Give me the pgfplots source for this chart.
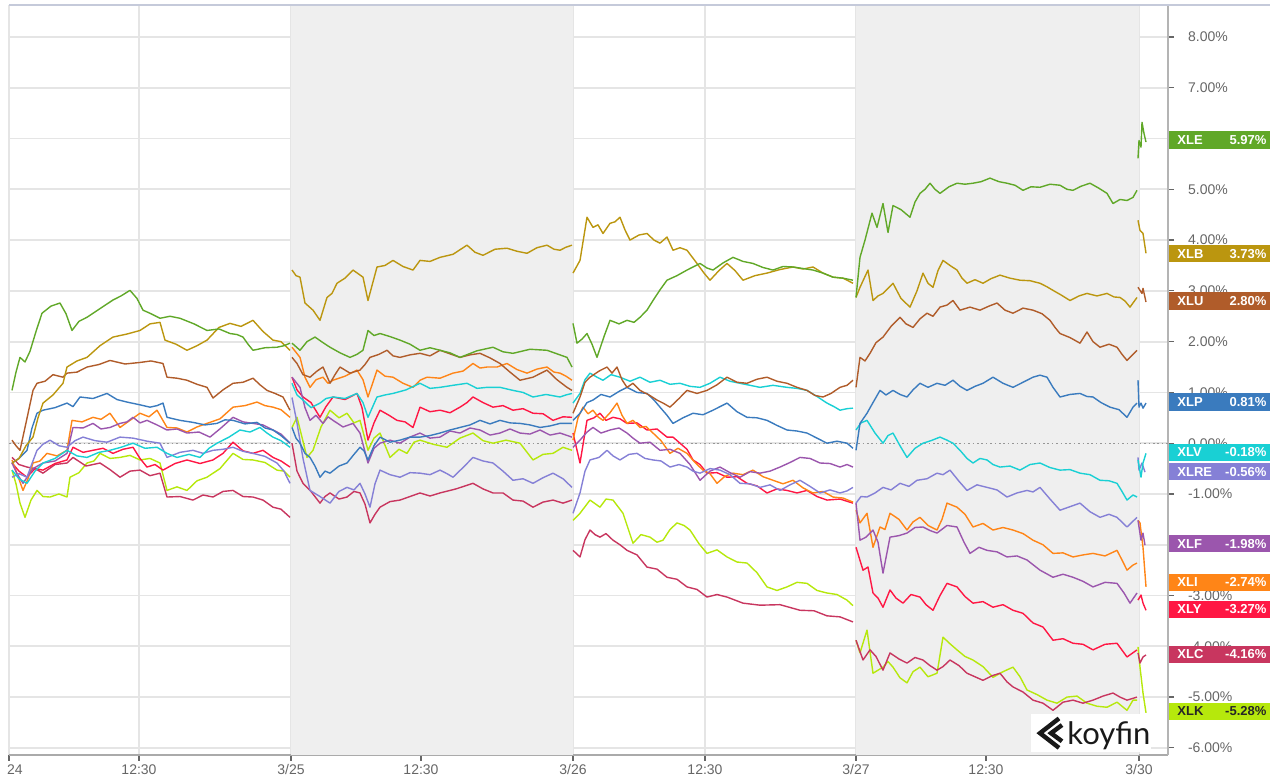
\documentclass[border=0pt]{standalone}
\usepackage{fontspec}
\setmainfont{Liberation Sans}
\newfontfamily\logofont{Lato}
\usepackage{pgfplots}
\pgfplotsset{compat=1.18}

\definecolor{cXLE}{RGB}{96,168,40}
\definecolor{cXLB}{RGB}{187,150,15}
\definecolor{cXLU}{RGB}{176,92,42}
\definecolor{cXLP}{RGB}{58,123,190}
\definecolor{cXLV}{RGB}{25,208,212}
\definecolor{cXLRE}{RGB}{133,128,214}
\definecolor{cXLF}{RGB}{155,86,173}
\definecolor{cXLI}{RGB}{255,133,23}
\definecolor{cXLY}{RGB}{255,23,68}
\definecolor{cXLC}{RGB}{200,54,95}
\definecolor{cXLK}{RGB}{182,232,12}
\definecolor{shadec}{RGB}{239,239,239}
\definecolor{gridc}{RGB}{229,229,229}
\definecolor{tickc}{RGB}{102,102,102}
\definecolor{topc}{RGB}{197,202,218}
\definecolor{xaxc}{RGB}{170,170,170}
\definecolor{yaxc}{RGB}{180,180,180}
\definecolor{zeroc}{RGB}{150,150,150}

\newcommand{\lbl}[4]{%
  \node[fill=#3, anchor=west, minimum width=50.5pt, minimum height=8.6pt, inner sep=0pt] (b) at ([xshift=0.5pt]axis cs:1159,#2) {};
  \node[anchor=west, text=#4, font=\bfseries\fontsize{6.5}{7}\selectfont, inner sep=0pt] at ([xshift=4pt]b.west) {#1};
  \node[anchor=east, text=#4, font=\bfseries\fontsize{6.5}{7}\selectfont, inner sep=0pt] at ([xshift=-2pt]b.east) {#2\%};
}

\begin{document}
\begin{tikzpicture}
\begin{axis}[
  set layers,
  scale only axis,
  width=579.5pt, height=375pt,
  xmin=0, xmax=1159, ymin=-6.14, ymax=8.63,
  clip=false,
  unbounded coords=jump,
  axis x line*=bottom, axis y line*=right,
  axis line style={-},
  x axis line style={draw=xaxc, line width=1pt},
  y axis line style={draw=yaxc, line width=0.9pt},
  xtick={0,130,282,412,564,696,847,977,1130},
  xticklabels={\hphantom{3/}24,12:30,3/25,12:30,3/26,12:30,3/27,12:30,3/30},
  ytick={-6,-5,-4,-3,-1,0,1,2,3,4,5,7,8},
  extra y ticks={-2,6},
  extra y tick labels={},
  extra y tick style={ymajorgrids=true},
  /pgf/number format/assume math mode=true,
  yticklabel={\pgfmathprintnumber[fixed,fixed zerofill,precision=2]{\tick}\%},
  tick label style={font=\fontsize{7}{8}\selectfont, text=tickc},
  yticklabel style={xshift=3.5pt},
  xticklabel style={yshift=1.8pt},
  tick align=outside,
  major tick length=3pt,
  tick style={draw=tickc, line width=0.6pt},
  xmajorgrids, ymajorgrids,
  grid style={draw=gridc, line width=0.9pt},
  every axis plot/.append style={line width=0.7pt, mark=none, line join=round},
]
\fill[shadec, on layer=axis background] (axis cs:282,-6.14) rectangle (axis cs:564,8.63);
\fill[shadec, on layer=axis background] (axis cs:847,-6.14) rectangle (axis cs:1130,8.63);
\draw[draw=zeroc, line width=0.7pt, dash pattern=on 0.8pt off 1.4pt] (axis cs:0,0) -- (axis cs:1159,0);

% XLK
\addplot[cXLK] coordinates {
(3,-0.53) (7,-0.80) (11,-1.18) (16,-1.46) (22,-1.12) (28,-0.93) (34,-1.05) (41,-1.06) (50,-1.00) (58,-1.06) (61,-0.67) (70,-0.58) (78,-0.39) (85,-0.35) (91,-0.20) (101,-0.30) (111,-0.28) (121,-0.24) (131,-0.33) (141,-0.30) (151,-0.39) (158,-0.93) (168,-0.86) (178,-0.93) (188,-0.74) (198,-0.67) (211,-0.50) (224,-0.20) (234,-0.32) (244,-0.33) (256,-0.38) (268,-0.53) (275,-0.55) (281,-0.67)
(282,nan)
(283,0.31) (288,0.51) (298,-0.28) (304,-0.14) (312,0.32) (321,0.65) (330,0.50) (338,0.59) (345,0.40) (351,0.45) (359,-0.14) (365,0.10) (371,0.20) (381,-0.28) (390,-0.12) (398,-0.20) (405,0.02) (411,0.06) (424,-0.02) (438,-0.08) (451,0.10) (464,0.20) (474,0.05) (484,0) (497,0.06) (511,0) (524,-0.33) (534,-0.22) (544,-0.20) (554,-0.08) (563,-0.14)
(564,nan)
(564,-1.52) (571,-1.38) (581,-1.12) (591,-1.26) (597,-1.10) (604,-1.12) (614,-1.38) (624,-1.97) (632,-1.80) (641,-1.85) (648,-1.95) (654,-1.91) (661,-1.70) (668,-1.57) (675,-1.62) (681,-1.71) (690,-1.98) (698,-2.17) (708,-2.10) (718,-2.24) (728,-2.34) (738,-2.36) (748,-2.55) (758,-2.83) (768,-2.90) (778,-2.83) (788,-2.74) (798,-2.76) (808,-2.90) (818,-2.95) (828,-2.98) (838,-3.09) (844,-3.20)
(846,nan)
(847,-3.88) (851,-4.13) (858,-3.68) (864,-4.53) (874,-4.41) (879,-4.30) (884,-4.41) (891,-4.62) (898,-4.72) (904,-4.50) (911,-4.41) (919,-4.60) (928,-4.53) (934,-3.82) (941,-3.95) (948,-4.07) (956,-4.20) (964,-4.27) (974,-4.40) (984,-4.61) (994,-4.50) (1004,-4.41) (1011,-4.60) (1018,-4.86) (1028,-4.95) (1038,-5.06) (1048,-5.12) (1058,-5.0) (1068,-4.98) (1078,-5.12) (1088,-5.18) (1098,-5.20) (1108,-5.10) (1118,-5.26) (1124,-5.06) (1128,-5.06)
(1128,nan)
(1129,-4.01) (1131,-4.41) (1134,-4.92) (1137,-5.31)
};
% XLC
\addplot[cXLC] coordinates {
(3,-0.28) (10,-0.42) (18,-0.47) (26,-0.50) (34,-0.59) (46,-0.42) (58,-0.39) (64,-0.28) (77,-0.45) (91,-0.39) (101,-0.52) (111,-0.67) (121,-0.55) (131,-0.53) (141,-0.64) (151,-0.59) (158,-1.06) (171,-1.05) (184,-1.12) (194,-1.02) (204,-1.06) (214,-0.95) (224,-0.93) (234,-1.05) (244,-1.06) (254,-1.12) (264,-1.26) (272,-1.30) (281,-1.46)
(282,nan)
(283,0) (288,-0.55) (294,-0.79) (302,-0.95) (311,-1.18) (316,-1.05) (321,-0.98) (330,-1.10) (338,-1.06) (345,-0.95) (351,-0.98) (356,-1.20) (361,-1.57) (366,-1.40) (371,-1.26) (381,-1.15) (391,-1.12) (401,-1.05) (411,-0.98) (421,-1.04) (431,-0.98) (447,-0.90) (464,-0.79) (474,-0.90) (484,-0.98) (494,-0.98) (504,-1.12) (514,-1.14) (524,-1.26) (534,-1.16) (544,-1.12) (554,-1.18) (563,-1.12)
(564,nan)
(564,-2.11) (571,-2.24) (576,-1.90) (581,-1.71) (586,-1.80) (591,-1.85) (597,-1.78) (604,-1.91) (611,-2.00) (618,-2.11) (628,-2.20) (638,-2.44) (648,-2.48) (658,-2.64) (668,-2.68) (678,-2.83) (688,-2.88) (698,-3.03) (708,-2.98) (718,-3.03) (734,-3.15) (751,-3.19) (771,-3.18) (791,-3.29) (805,-3.30) (818,-3.40) (831,-3.42) (844,-3.52)
(846,nan)
(847,-3.88) (854,-4.27) (861,-4.07) (867,-4.20) (874,-4.47) (881,-4.13) (890,-4.25) (898,-4.33) (906,-4.22) (914,-4.27) (921,-4.38) (928,-4.47) (934,-4.40) (941,-4.27) (950,-4.38) (958,-4.53) (966,-4.60) (974,-4.67) (983,-4.58) (991,-4.53) (998,-4.70) (1004,-4.80) (1014,-4.90) (1024,-5.06) (1034,-5.12) (1044,-5.26) (1054,-5.10) (1064,-5.06) (1074,-5.12) (1084,-5.06) (1094,-4.98) (1104,-4.92) (1111,-5.00) (1118,-5.06) (1128,-5.0)
(1128,nan)
(1129,-4.13) (1131,-4.33) (1134,-4.21) (1137,-4.17)
};
% XLY
\addplot[cXLY] coordinates {
(3,-0.39) (10,-0.55) (18,-0.67) (26,-0.50) (34,-0.53) (46,-0.40) (58,-0.33) (64,-0.08) (74,-0.18) (84,-0.14) (94,-0.10) (104,-0.20) (114,-0.12) (124,-0.08) (131,-0.30) (138,-0.47) (146,-0.42) (154,-0.53) (166,-0.40) (178,-0.33) (191,-0.40) (204,-0.33) (214,-0.20) (224,0.02) (234,-0.15) (244,-0.20) (254,-0.14) (264,-0.28) (272,-0.35) (281,-0.47)
(282,nan)
(283,1.30) (288,1.05) (294,0.91) (302,0.80) (311,0.51) (317,0.72) (324,0.91) (336,0.86) (348,0.98) (353,0.70) (359,0.06) (365,0.40) (371,0.65) (380,0.55) (388,0.45) (396,0.42) (404,0.31) (411,0.71) (421,0.62) (431,0.65) (441,0.60) (451,0.71) (458,0.80) (464,0.91) (474,0.80) (484,0.71) (494,0.74) (504,0.65) (514,0.68) (524,0.59) (534,0.58) (544,0.45) (554,0.52) (563,0.51)
(564,nan)
(564,0.20) (571,-0.39) (578,0.45) (585,0.50) (591,0.59) (597,0.45) (604,0.51) (611,0.48) (618,0.39) (628,0.40) (638,0.26) (648,0.28) (658,0.12) (664,0.12) (671,0) (678,-0.12) (684,-0.33) (691,-0.42) (698,-0.59) (708,-0.58) (718,-0.67) (728,-0.66) (738,-0.79) (748,-0.84) (758,-0.98) (768,-0.90) (778,-0.93) (788,-0.98) (798,-0.93) (808,-1.05) (818,-1.12) (831,-1.10) (844,-1.18)
(846,nan)
(847,-2.05) (854,-2.50) (859,-2.44) (864,-2.95) (869,-3.05) (874,-3.23) (881,-2.89) (887,-3.05) (894,-3.15) (902,-2.98) (911,-3.03) (917,-3.18) (924,-3.29) (931,-3.00) (938,-2.76) (948,-2.83) (956,-3.02) (964,-3.15) (974,-3.12) (984,-3.23) (994,-3.18) (1004,-3.29) (1014,-3.35) (1024,-3.54) (1034,-3.62) (1044,-3.88) (1054,-3.85) (1064,-3.94) (1074,-3.96) (1084,-4.07) (1096,-3.96) (1108,-3.94) (1118,-4.21) (1128,-4.07)
(1128,nan)
(1129,-3.09) (1132,-2.99) (1134,-3.15) (1137,-3.29)
};
% XLI
\addplot[cXLI] coordinates {
(3,-0.33) (8,-0.60) (14,-0.93) (19,-0.70) (24,-0.39) (31,-0.35) (38,-0.20) (48,-0.25) (58,-0.14) (63,0.45) (73,0.42) (84,0.51) (92,0.47) (101,0.59) (111,0.31) (121,0.45) (131,0.59) (140,0.52) (148,0.65) (158,0.31) (168,0.30) (178,0.22) (188,0.32) (198,0.39) (211,0.48) (224,0.71) (236,0.74) (248,0.81) (256,0.74) (264,0.71) (272,0.66) (281,0.51)
(282,nan)
(283,1.89) (291,1.69) (296,1.30) (301,1.10) (307,1.25) (314,1.30) (319,1.18) (324,1.24) (336,1.32) (348,1.44) (354,1.25) (359,0.91) (368,1.44) (376,1.32) (384,1.30) (394,1.18) (404,1.10) (411,1.24) (418,1.30) (431,1.28) (444,1.38) (454,1.42) (464,1.57) (471,1.48) (478,1.50) (488,1.50) (498,1.57) (508,1.45) (518,1.38) (528,1.46) (538,1.50) (545,1.40) (551,1.38) (557,1.32) (563,1.24)
(564,nan)
(564,0.06) (569,0.50) (574,0.71) (579,0.58) (584,0.65) (589,0.52) (594,0.45) (601,0.60) (608,0.79) (613,0.55) (618,0.39) (624,0.45) (631,0.31) (637,0.33) (644,0.20) (652,0.05) (661,-0.20) (669,-0.10) (678,-0.20) (686,-0.38) (694,-0.53) (701,-0.60) (708,-0.79) (716,-0.65) (724,-0.59) (734,-0.62) (744,-0.53) (754,-0.66) (764,-0.73) (774,-0.80) (784,-0.73) (794,-0.88) (804,-0.98) (814,-0.95) (824,-1.06) (834,-1.08) (844,-1.16)
(846,nan)
(847,-1.32) (851,-1.57) (858,-1.38) (864,-2.05) (871,-1.65) (876,-1.70) (881,-1.38) (890,-1.50) (898,-1.71) (904,-1.55) (911,-1.46) (919,-1.62) (928,-1.71) (933,-1.50) (938,-1.18) (948,-1.26) (956,-1.40) (964,-1.65) (974,-1.58) (984,-1.71) (994,-1.66) (1004,-1.71) (1014,-1.78) (1024,-1.91) (1034,-2.00) (1044,-2.17) (1054,-2.16) (1064,-2.24) (1074,-2.20) (1084,-2.17) (1096,-2.22) (1108,-2.11) (1113,-2.30) (1118,-2.50) (1124,-2.40) (1128,-2.36)
(1128,nan)
(1129,-1.52) (1131,-1.57) (1134,-2.05) (1137,-2.83)
};
% XLF
\addplot[cXLF] coordinates {
(3,-0.39) (8,-0.60) (14,-0.79) (24,-0.50) (34,-0.39) (46,-0.35) (58,-0.20) (64,0.31) (74,0.30) (84,0.39) (92,0.28) (101,0.31) (111,0.39) (118,0.42) (124,0.51) (131,0.40) (138,0.45) (148,0.36) (158,0.26) (168,0.28) (178,0.20) (190,0.22) (201,0.12) (212,0.30) (224,0.51) (234,0.42) (244,0.39) (254,0.36) (264,0.26) (272,0.18) (281,0)
(282,nan)
(283,1.30) (291,1.10) (296,0.70) (301,0.45) (307,0.55) (314,0.39) (319,0.52) (324,0.45) (334,0.32) (344,0.39) (351,0.20) (359,-0.39) (365,-0.10) (371,0) (381,0.06) (391,0) (401,0.12) (411,0.20) (421,0.10) (431,0.12) (441,0.24) (451,0.20) (461,0.30) (471,0.26) (481,0.16) (491,0.20) (501,0.28) (511,0.20) (521,0.18) (531,0.26) (541,0.16) (551,0.20) (563,0.12)
(564,nan)
(564,-0.08) (571,0.06) (578,0.22) (584,0.31) (592,0.20) (601,0.26) (610,0.30) (618,0.20) (624,0.10) (631,0) (641,0.02) (651,-0.14) (661,-0.12) (671,-0.20) (681,-0.42) (691,-0.73) (701,-0.55) (711,-0.47) (721,-0.58) (731,-0.67) (741,-0.56) (751,-0.59) (761,-0.55) (771,-0.47) (781,-0.38) (791,-0.28) (801,-0.30) (811,-0.39) (821,-0.40) (831,-0.47) (838,-0.42) (844,-0.47)
(846,nan)
(847,-1.18) (851,-1.91) (857,-1.85) (864,-1.71) (869,-1.95) (874,-2.56) (881,-1.85) (890,-1.82) (898,-1.77) (906,-1.66) (914,-1.65) (921,-1.72) (928,-1.77) (938,-1.62) (948,-1.65) (955,-1.95) (961,-2.17) (970,-2.05) (978,-2.11) (988,-2.14) (998,-2.24) (1008,-2.22) (1018,-2.30) (1031,-2.50) (1044,-2.64) (1054,-2.58) (1064,-2.64) (1074,-2.72) (1084,-2.83) (1096,-2.74) (1108,-2.76) (1115,-2.95) (1121,-3.15) (1128,-2.95)
(1128,nan)
(1129,-1.52) (1132,-1.91) (1134,-1.77) (1136,-2.01)
};
% XLRE
\addplot[cXLRE] coordinates {
(3,-0.67) (10,-0.60) (18,-0.67) (23,-0.40) (28,-0.14) (34,-0.02) (41,0.06) (50,-0.05) (58,-0.08) (66,0.05) (74,0.12) (86,0.05) (98,0.02) (111,0.12) (124,0.10) (138,0.04) (151,0) (158,-0.28) (171,-0.18) (184,-0.14) (194,-0.20) (204,-0.14) (214,-0.12) (224,-0.08) (234,-0.16) (244,-0.20) (256,-0.26) (268,-0.39) (275,-0.55) (281,-0.79)
(282,nan)
(283,0.9) (288,0.40) (294,-0.30) (301,-0.93) (311,-1.05) (321,-1.18) (330,-0.95) (338,-0.87) (345,-0.92) (351,-0.79) (356,-1.00) (361,-1.26) (366,-0.80) (371,-0.53) (381,-0.62) (391,-0.67) (401,-0.58) (411,-0.59) (421,-0.62) (431,-0.53) (438,-0.60) (444,-0.67) (454,-0.48) (464,-0.28) (474,-0.35) (484,-0.39) (494,-0.55) (504,-0.73) (514,-0.70) (524,-0.79) (534,-0.68) (544,-0.59) (554,-0.70) (563,-0.87)
(564,nan)
(564,-1.38) (571,-0.98) (576,-0.55) (581,-0.33) (590,-0.28) (598,-0.14) (604,-0.25) (611,-0.33) (620,-0.22) (628,-0.20) (636,-0.30) (644,-0.33) (652,-0.35) (661,-0.47) (670,-0.42) (678,-0.47) (684,-0.55) (691,-0.59) (701,-0.50) (711,-0.53) (721,-0.62) (731,-0.79) (741,-0.80) (751,-0.87) (761,-0.82) (771,-0.93) (781,-0.82) (791,-0.73) (801,-0.85) (811,-0.98) (821,-0.92) (831,-0.98) (838,-0.94) (844,-0.87)
(846,nan)
(847,-1.18) (852,-1.05) (858,-1.06) (866,-0.98) (874,-0.87) (882,-0.92) (891,-0.79) (900,-0.85) (908,-0.73) (918,-0.70) (928,-0.59) (934,-0.62) (941,-0.53) (950,-0.75) (958,-0.93) (968,-0.82) (978,-0.87) (988,-0.92) (998,-1.06) (1008,-0.98) (1018,-0.93) (1024,-0.96) (1031,-0.87) (1041,-1.10) (1051,-1.32) (1061,-1.25) (1071,-1.18) (1081,-1.35) (1091,-1.46) (1100,-1.40) (1108,-1.46) (1118,-1.65) (1128,-1.46)
(1128,nan)
(1129,-0.28) (1130,-0.53) (1133,-0.39) (1136,-0.57)
};
% XLV
\addplot[cXLV] coordinates {
(3,-0.53) (10,-0.70) (18,-0.79) (26,-0.55) (34,-0.39) (46,-0.30) (58,-0.14) (68,-0.25) (78,-0.28) (90,-0.18) (101,-0.14) (112,-0.08) (124,0) (136,-0.10) (148,-0.08) (158,-0.20) (168,-0.28) (180,-0.22) (191,-0.28) (200,-0.10) (208,0) (220,0.12) (231,0.26) (241,0.22) (251,0.31) (258,0.20) (264,0.12) (272,0.05) (281,-0.08)
(282,nan)
(283,1.18) (288,0.95) (294,0.85) (302,0.70) (311,0.79) (317,0.88) (324,0.91) (336,0.88) (348,0.98) (354,0.80) (359,0.51) (368,0.91) (376,0.95) (384,0.98) (397,1.05) (411,1.18) (421,1.08) (431,1.10) (444,1.14) (458,1.18) (468,1.08) (478,1.10) (491,1.10) (504,1.04) (514,1.00) (524,0.91) (537,0.96) (551,0.91) (557,0.95) (563,0.98)
(564,nan)
(564,0.79) (571,0.98) (576,1.25) (581,1.38) (588,1.30) (594,1.24) (602,1.35) (611,1.30) (621,1.22) (631,1.30) (641,1.20) (651,1.24) (661,1.16) (671,1.18) (681,1.12) (691,1.10) (701,1.18) (711,1.30) (721,1.22) (731,1.18) (741,1.14) (751,1.10) (764,1.14) (778,1.10) (788,1.08) (798,1.04) (808,0.92) (818,0.79) (825,0.72) (831,0.65) (838,0.68) (844,0.69)
(846,nan)
(847,0.26) (852,0.40) (858,0.45) (866,0.20) (874,0) (879,0.15) (884,0.20) (891,-0.05) (898,-0.28) (906,-0.10) (914,0) (922,0.05) (931,0.12) (938,0.06) (944,0) (951,-0.14) (958,-0.30) (964,-0.39) (971,-0.30) (978,-0.33) (984,-0.42) (991,-0.47) (1001,-0.45) (1011,-0.53) (1021,-0.42) (1031,-0.39) (1041,-0.48) (1051,-0.53) (1061,-0.52) (1071,-0.59) (1081,-0.62) (1091,-0.73) (1100,-0.74) (1108,-0.79) (1113,-0.95) (1118,-1.12) (1124,-1.02) (1128,-1.06)
(1128,nan)
(1129,-0.33) (1132,-0.67) (1134,-0.39) (1137,-0.20)
};
% XLP
\addplot[cXLP] coordinates {
(3,-0.39) (10,-0.30) (18,-0.14) (23,0.30) (28,0.59) (34,0.65) (46,0.70) (58,0.79) (64,0.72) (71,0.91) (84,0.88) (98,0.98) (108,0.86) (118,0.81) (130,0.76) (141,0.71) (148,0.74) (154,0.79) (158,0.51) (171,0.45) (184,0.41) (196,0.36) (208,0.39) (216,0.46) (224,0.45) (236,0.38) (248,0.41) (256,0.30) (264,0.26) (272,0.15) (281,0.0)
(282,nan)
(283,0.31) (287,0.10) (291,0) (296,-0.20) (301,-0.28) (306,-0.45) (311,-0.67) (316,-0.55) (321,-0.59) (330,-0.45) (338,-0.39) (345,-0.22) (351,-0.08) (355,-0.15) (359,-0.33) (365,-0.05) (371,0.12) (381,0.02) (391,0.06) (401,0.12) (411,0.12) (421,0.15) (431,0.20) (441,0.26) (451,0.31) (461,0.36) (471,0.45) (481,0.38) (491,0.45) (501,0.40) (511,0.39) (521,0.36) (531,0.31) (541,0.34) (551,0.39) (563,0.39)
(564,nan)
(564,0.45) (571,0.59) (578,0.80) (584,0.85) (592,0.96) (601,0.91) (610,1.02) (618,1.10) (628,1.00) (638,0.98) (645,0.85) (651,0.71) (658,0.55) (664,0.39) (674,0.50) (684,0.59) (694,0.56) (704,0.65) (711,0.72) (718,0.79) (728,0.62) (738,0.51) (748,0.50) (758,0.45) (768,0.35) (778,0.26) (788,0.24) (798,0.20) (808,0.10) (818,0) (828,0.04) (838,0) (844,-0.10)
(846,nan)
(847,-0.14) (851,0.39) (858,0.59) (864,0.80) (871,1.04) (877,0.95) (884,1.04) (891,0.96) (898,0.91) (904,1.05) (911,1.18) (919,1.10) (928,1.18) (936,1.14) (944,1.24) (951,1.12) (958,1.04) (966,1.12) (974,1.18) (984,1.30) (994,1.18) (1004,1.10) (1014,1.20) (1024,1.30) (1031,1.34) (1038,1.30) (1044,1.10) (1051,0.91) (1061,0.96) (1071,0.98) (1078,0.92) (1084,0.91) (1092,0.80) (1101,0.71) (1110,0.66) (1118,0.51) (1124,0.71) (1128,0.79)
(1128,nan)
(1129,1.24) (1130,0.71) (1132,0.79) (1134,0.69) (1137,0.79)
};
% XLU
\addplot[cXLU] coordinates {
(3,0.06) (7,-0.05) (11,-0.14) (17,0.40) (24,1.04) (28,1.18) (36,1.22) (44,1.35) (54,1.30) (58,1.38) (68,1.40) (78,1.50) (90,1.55) (101,1.63) (116,1.56) (131,1.59) (142,1.62) (154,1.57) (158,1.30) (168,1.28) (178,1.24) (188,1.16) (198,1.10) (204,0.89) (214,1.05) (224,1.18) (234,1.20) (244,1.28) (251,1.15) (258,1.04) (266,0.98) (274,0.91) (281,0.65)
(282,nan)
(283,1.69) (288,1.57) (294,1.35) (301,1.30) (308,1.42) (314,1.50) (321,1.18) (326,1.35) (331,1.50) (341,1.38) (351,1.44) (356,1.55) (361,1.69) (370,1.75) (378,1.83) (384,1.72) (391,1.69) (401,1.74) (411,1.77) (421,1.72) (431,1.83) (441,1.76) (451,1.69) (461,1.74) (471,1.77) (481,1.68) (491,1.57) (501,1.40) (511,1.24) (524,1.30) (538,1.44) (548,1.25) (558,1.10) (563,1.04)
(564,nan)
(564,0.59) (571,0.91) (576,1.20) (581,1.30) (590,1.42) (598,1.50) (603,1.38) (608,1.50) (613,1.25) (618,1.10) (624,1.18) (631,1.04) (640,0.95) (648,0.85) (655,0.78) (661,0.71) (670,0.88) (678,1.04) (688,0.98) (698,1.04) (708,1.15) (718,1.30) (728,1.20) (738,1.18) (748,1.26) (758,1.30) (768,1.22) (778,1.18) (788,1.10) (798,1.04) (806,0.94) (814,0.91) (822,0.98) (831,1.10) (838,1.14) (844,1.24)
(846,nan)
(847,1.10) (851,1.69) (856,1.62) (861,1.77) (867,1.98) (874,2.09) (882,2.30) (891,2.48) (897,2.35) (904,2.28) (911,2.45) (918,2.56) (924,2.50) (931,2.68) (938,2.72) (944,2.81) (951,2.62) (961,2.68) (971,2.62) (980,2.70) (988,2.76) (996,2.62) (1004,2.56) (1014,2.66) (1024,2.62) (1033,2.55) (1041,2.42) (1046,2.28) (1051,2.16) (1061,2.08) (1071,1.97) (1078,2.19) (1084,2.00) (1091,1.89) (1100,1.95) (1108,1.89) (1113,1.75) (1118,1.63) (1124,1.75) (1128,1.83)
(1128,nan)
(1129,3.07) (1133,2.95) (1134,3.05) (1137,2.78)
};
% XLB
\addplot[cXLB] coordinates {
(3,-0.39) (10,-0.30) (17,-0.05) (24,0.12) (29,0.50) (34,0.79) (44,0.95) (54,1.18) (58,1.50) (68,1.62) (78,1.69) (91,1.92) (104,2.09) (118,2.15) (131,2.22) (141,2.35) (151,2.38) (156,2.03) (167,1.95) (178,1.83) (188,1.92) (198,2.03) (210,2.28) (221,2.36) (232,2.30) (244,2.42) (254,2.20) (264,2.03) (272,2.00) (281,1.83)
(282,nan)
(283,3.41) (287,3.30) (291,3.27) (296,2.76) (304,2.62) (311,2.42) (318,2.87) (323,2.95) (328,3.15) (336,3.25) (344,3.41) (354,3.27) (359,2.81) (368,3.47) (376,3.50) (384,3.60) (394,3.48) (404,3.41) (411,3.60) (421,3.58) (431,3.66) (444,3.72) (458,3.90) (466,3.76) (474,3.70) (486,3.82) (498,3.84) (508,3.78) (518,3.74) (528,3.85) (538,3.90) (545,3.82) (551,3.80) (557,3.86) (563,3.90)
(564,nan)
(564,3.35) (571,3.60) (578,4.45) (584,4.25) (589,4.30) (594,4.13) (601,4.33) (606,4.36) (611,4.45) (616,4.20) (621,4.00) (630,4.10) (638,4.13) (645,4.00) (651,3.94) (658,4.06) (664,3.80) (671,3.85) (678,3.80) (688,3.54) (695,3.35) (701,3.21) (710,3.40) (718,3.54) (726,3.40) (734,3.21) (746,3.30) (758,3.35) (771,3.42) (784,3.47) (794,3.43) (804,3.47) (814,3.35) (824,3.27) (834,3.25) (844,3.15)
(846,nan)
(847,2.87) (851,3.07) (859,3.41) (864,2.81) (869,2.90) (874,2.95) (879,3.05) (884,3.15) (892,2.85) (901,2.68) (908,3.00) (914,3.35) (919,3.15) (924,3.07) (929,3.40) (934,3.60) (941,3.50) (948,3.41) (953,3.25) (958,3.15) (966,3.22) (974,3.15) (982,3.24) (991,3.31) (1001,3.25) (1011,3.21) (1021,3.20) (1031,3.15) (1038,3.08) (1044,3.01) (1052,2.92) (1061,2.81) (1070,2.90) (1078,2.95) (1088,2.90) (1098,2.95) (1105,2.88) (1111,2.87) (1116,2.80) (1121,2.68) (1128,2.87)
(1128,nan)
(1129,4.39) (1131,4.19) (1134,4.13) (1137,3.74)
};
% XLE
\addplot[cXLE] coordinates {
(3,1.04) (7,1.40) (11,1.69) (16,1.60) (21,1.81) (27,2.20) (33,2.56) (42,2.70) (51,2.76) (57,2.55) (63,2.22) (70,2.40) (78,2.48) (91,2.65) (104,2.82) (112,2.90) (121,3.01) (128,2.85) (134,2.62) (142,2.55) (151,2.46) (161,2.50) (171,2.46) (185,2.35) (198,2.22) (210,2.25) (221,2.16) (228,2.14) (234,2.09) (239,1.95) (244,1.83) (256,1.88) (268,1.89) (275,1.92) (281,1.97)
(282,nan)
(283,1.97) (287,1.90) (291,1.83) (298,2.00) (306,2.09) (314,1.98) (321,1.89) (331,1.78) (341,1.69) (348,1.75) (354,1.83) (359,2.22) (365,2.12) (371,2.16) (381,2.10) (391,2.03) (401,1.95) (411,1.83) (421,1.88) (431,1.83) (441,1.78) (451,1.69) (468,1.82) (484,1.89) (494,1.80) (504,1.77) (521,1.85) (538,1.83) (548,1.76) (558,1.69) (563,1.50)
(564,nan)
(564,2.36) (568,1.97) (573,2.05) (578,2.16) (583,1.95) (588,1.69) (595,2.10) (601,2.42) (610,2.35) (618,2.42) (625,2.38) (631,2.48) (638,2.62) (644,2.81) (651,3.02) (658,3.21) (668,3.30) (678,3.41) (685,3.48) (691,3.54) (698,3.45) (704,3.41) (714,3.55) (724,3.66) (734,3.58) (744,3.54) (754,3.46) (764,3.41) (774,3.48) (784,3.47) (794,3.44) (804,3.41) (814,3.35) (824,3.27) (834,3.25) (844,3.21)
(846,nan)
(847,2.87) (851,3.66) (856,4.00) (863,4.53) (868,4.25) (874,4.72) (879,4.15) (884,4.68) (892,4.60) (901,4.45) (906,4.75) (911,4.92) (916,5.00) (921,5.12) (926,5.00) (931,4.92) (940,5.05) (948,5.12) (956,5.10) (964,5.12) (972,5.15) (981,5.22) (990,5.15) (998,5.12) (1006,5.08) (1014,4.98) (1022,5.05) (1031,5.04) (1041,5.10) (1051,5.08) (1058,5.00) (1064,4.98) (1072,5.06) (1081,5.12) (1090,5.02) (1098,4.92) (1104,4.72) (1111,4.80) (1118,4.78) (1124,4.84) (1128,4.98)
(1128,nan)
(1129,5.61) (1130,5.96) (1132,5.83) (1133,6.32) (1135,6.10) (1137,5.93)
};

% top border
\draw[topc, line width=1.4pt] (axis cs:0,8.63) -- ([xshift=51pt]axis cs:1159,8.63);

% koyfin logo
\fill[white] (axis cs:1022,-5.33) rectangle (axis cs:1142,-6.08);
\draw[black!90, line width=2.2pt, line join=miter] (axis cs:1050,-5.42) -- (axis cs:1031,-5.71) -- (axis cs:1050,-6.00);
\draw[black!90, line width=2.2pt, line join=miter] (axis cs:1053,-5.55) -- (axis cs:1042,-5.71) -- (axis cs:1053,-5.87);
\node[anchor=base west, inner sep=0pt, text=black!90, font=\logofont\fontsize{15.5}{16}\selectfont] at (axis cs:1058,-5.94) {koyfin};

% labels
\lbl{XLE}{5.97}{cXLE}{white}
\lbl{XLB}{3.73}{cXLB}{white}
\lbl{XLU}{2.80}{cXLU}{white}
\lbl{XLP}{0.81}{cXLP}{white}
\lbl{XLV}{-0.18}{cXLV}{white}
\lbl{XLRE}{-0.56}{cXLRE}{white}
\lbl{XLF}{-1.98}{cXLF}{white}
\lbl{XLI}{-2.74}{cXLI}{white}
\lbl{XLY}{-3.27}{cXLY}{white}
\lbl{XLC}{-4.16}{cXLC}{white}
\lbl{XLK}{-5.28}{cXLK}{black!85}
\end{axis}
\pgfresetboundingbox
\path[use as bounding box] ([shift={(-4.5pt,-11.5pt)}]current axis.south west) rectangle ([shift={(630.5pt,2.5pt)}]current axis.north west);
\end{tikzpicture}
\end{document}
